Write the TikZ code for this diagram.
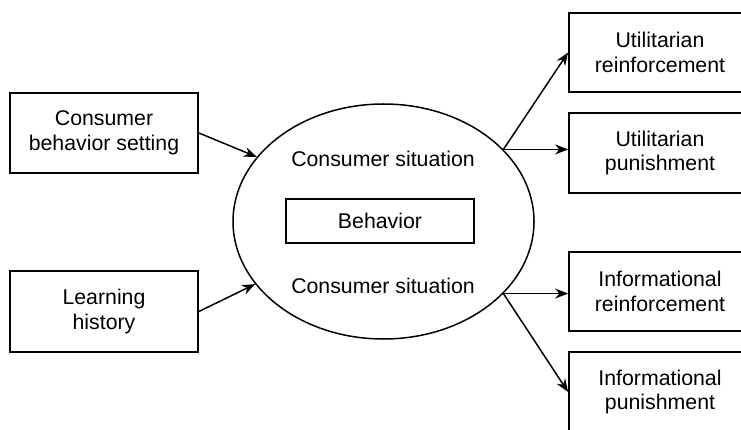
\documentclass[tikz,border=0pt]{standalone}
\usepackage{fontspec}
\setmainfont{Liberation Sans}
\usetikzlibrary{arrows.meta}
\usetikzlibrary{shapes.geometric}

\begin{document}
\begin{tikzpicture}[x=1pt,y=-1pt,>={Stealth[length=13pt,width=10pt]},line width=1.5pt,
    font=\fontsize{21.3}{24.5}\selectfont,
    box node/.style={rectangle,draw,line width=1.8pt,align=center,minimum width=188pt,minimum height=80pt,inner sep=0pt},
    out node/.style={box node,minimum width=182pt,minimum height=79pt},
    sit node/.style={ellipse,draw,minimum width=301pt,minimum height=235pt,inner sep=0pt}]
  \clip (0,0) rectangle (741,430);
  % left side
  \node[box node] (cbs) at (104,133) {Consumer\\behavior setting};
  \node[box node,minimum height=81pt] (lh) at (104,311.5) {Learning\\history};
  % consumer situation
  \node[sit node] (sit) at (383.5,221.5) {};
  \node[anchor=base] (cs1) at (383,167) {Consumer situation};
  \node[anchor=base] (cs2) at (383,293) {Consumer situation};
  \node[box node,minimum width=188pt,minimum height=44pt,line width=1.6pt] (beh) at (380,221) {Behavior};
  % consequences
  \node[out node] (ur) at (660,52.5) {Utilitarian\\reinforcement};
  \node[out node,minimum height=80pt] (up) at (660,153) {Utilitarian\\punishment};
  \node[out node] (ir) at (660,291.5) {Informational\\reinforcement};
  \node[out node,minimum height=80pt] (ip) at (660,392) {Informational\\punishment};
  \path[->] (cbs.east) edge (sit.153);
  \path[->] (lh.east) edge (sit.206);
  \path[->] (sit.31.5) edge (ur.west);
  \path[->] (sit.31.5) edge (sit.31.5 -| up.west);
  \path[->] (sit.-31.5) edge (sit.-31.5 -| ir.west);
  \path[->] (sit.-31.5) edge (ip.west);
\end{tikzpicture}
\end{document}
